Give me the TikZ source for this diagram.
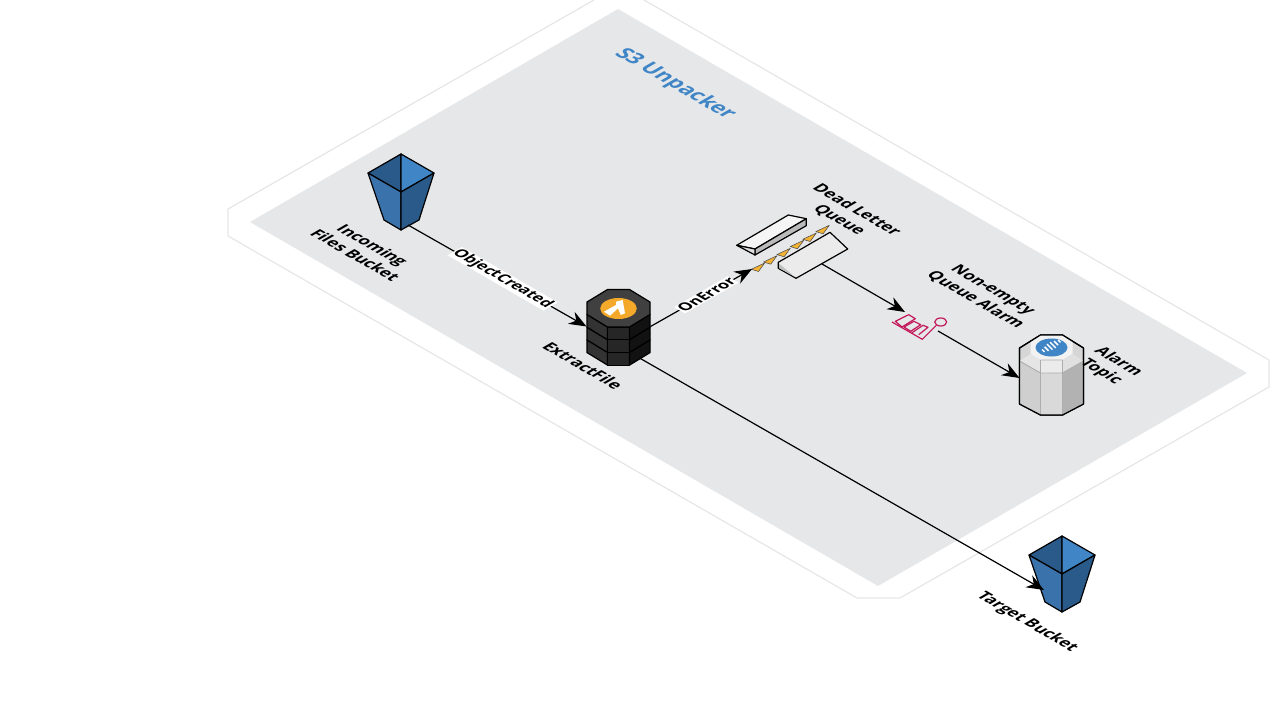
\documentclass[tikz,border=0pt]{standalone}
\usepackage{fontspec}
\setmainfont{Open Sans}
\usepackage{xcolor}
\usetikzlibrary{arrows.meta}
\definecolor{zone}{HTML}{E6E7E8}
\definecolor{zoneline}{HTML}{E6E6E6}
\definecolor{s3mid}{HTML}{3A72AB}
\definecolor{s3dark}{HTML}{2A5A8A}
\definecolor{s3light}{HTML}{4086C6}
\definecolor{amber}{HTML}{F5A92B}
\definecolor{chevron}{HTML}{F2B233}
\definecolor{alarmred}{HTML}{C2185B}
\begin{document}
\begin{tikzpicture}[
  x=0.75pt, y=-0.75pt, line join=round,
  lbl/.style={font=\bfseries\fontsize{12}{15}\selectfont, align=center, inner sep=0pt, transform shape},
  iso/.style={lbl, cm={0.866,-0.5,0.866,0.5,(0,0)}},
  isoup/.style={lbl, cm={0.866,0.5,-0.866,0.5,(0,0)}},
  title/.style={iso, text=s3light, font=\fontsize{15.8}{18}\selectfont\bfseries},
  halo/.style={fill=white, inner sep=0.5pt, font=\bfseries\fontsize{11.4}{14}\selectfont},
  ar/.style={-{Stealth[length=4.6mm,width=3.6mm]}, line width=0.9pt},
  ln/.style={line width=0.9pt},
  bucket/.pic={
    \filldraw[ln, fill=s3dark] (-33,-19) -- (0,-38) -- (0,0) -- cycle;
    \filldraw[ln, fill=s3light] (0,-38) -- (33,-19) -- (0,0) -- cycle;
    \filldraw[ln, fill=s3mid] (-33,-19) -- (0,0) -- (0,38) -- (-17,28) -- cycle;
    \filldraw[ln, fill=s3dark] (33,-19) -- (0,0) -- (0,38) -- (18,28) -- cycle;
    \coordinate (-out) at (7,33);
    \coordinate (-in) at (-18,16);
  },
  lambda/.pic={
    \foreach \dy in {25.4,12.7,0} {
      \filldraw[ln, fill=black!80] (-31.5,-6.5+\dy) -- (-11,6+\dy) -- (-11,18.7+\dy) -- (-31.5,6.2+\dy) -- cycle;
      \filldraw[ln, fill=black!85] (-11,6+\dy) -- (11,6+\dy) -- (11,18.7+\dy) -- (-11,18.7+\dy) -- cycle;
      \filldraw[ln, fill=black!93] (11,6+\dy) -- (31.5,-6.5+\dy) -- (31.5,6.2+\dy) -- (11,18.7+\dy) -- cycle;
    }
    \filldraw[ln, fill=black!75] (-31.5,-19) -- (-11,-31.5) -- (11,-31.5) -- (31.5,-19) -- (31.5,-6.5) -- (11,6) -- (-11,6) -- (-31.5,-6.5) -- cycle;
    \fill[amber] (0,-12.5) ellipse [x radius=18.3, y radius=10.5];
    \fill[white] (-2.5,-19.3) -- (4.2,-21) -- (6.5,-7.7) -- (2.2,-6) -- (-0.5,-12.7) -- (-8.5,-5.3) -- (-14.5,-9.3) -- (-2.5,-16) -- cycle;
    \coordinate (-in) at (-32,5.5);
    \coordinate (-err) at (32,5.5);
    \coordinate (-out) at (21,37);
  },
  topic/.pic={
    \filldraw[ln, fill=black!16] (-32,-27) -- (-11,-40) -- (11,-40) -- (32,-27) -- (32,29) -- (11,40) -- (-11,40) -- (-32,29) -- cycle;
    \fill[black!5] (-21,-33) -- (-11,-40) -- (11,-40) -- (21,-33) -- (21,-21) -- (11,-15) -- (-11,-15) -- (-21,-21) -- cycle;
    \fill[black!19] (-32,-14) -- (-11,-2) -- (-11,40) -- (-32,29) -- cycle;
    \fill[black!15] (-11,-2) -- (11,-2) -- (11,40) -- (-11,40) -- cycle;
    \fill[black!30] (11,-2) -- (32,-14) -- (32,29) -- (11,40) -- cycle;
    \fill[black!10] (-32,-14) -- (-21,-21) -- (-11,-15) -- (-11,-2) -- cycle;
    \fill[black!8] (-11,-15) -- (11,-15) -- (11,-2) -- (-11,-2) -- cycle;
    \fill[black!12] (32,-14) -- (21,-21) -- (11,-15) -- (11,-2) -- cycle;
    \draw[black!32, line width=0.7pt] (-11,-15) -- (-11,40) (11,-15) -- (11,40) (-32,-14) -- (-11,-2) -- (11,-2) -- (32,-14) (-11,-15) -- (11,-15);
    \draw[ln] (-32,-27) -- (-11,-40) -- (11,-40) -- (32,-27) -- (32,29) -- (11,40) -- (-11,40) -- (-32,29) -- cycle;
    \fill[s3light] (0,-27.5) ellipse [x radius=16, y radius=9];
    \foreach \sx/\sy/\sl in {-8.2/-24.3/1.2, -5/-26.2/2, -1.8/-28.1/2.8, 1.4/-30/2.8, 4.6/-31.9/2, 7.8/-33.8/1.2} {
      \draw[white, line width=1.1pt] (\sx-\sl,\sy-\sl) -- (\sx+\sl,\sy+\sl);
    }
    \coordinate (-in) at (-32,3);
  },
  tri/.pic={
    \filldraw[fill=chevron, draw=black!70, line width=0.4pt] (7,-4) -- (-6.5,2.3) -- (0.8,4.5) -- cycle;
  }]
  \useasboundingbox (0,0) rectangle (1280,720);
  \draw[zoneline, line width=0.9pt] (644,0) -- (1269,360) -- (1269,387) -- (900,598) -- (857,598) -- (228,236) -- (228,209) -- (594,0);
  \fill[zone] (618,9) -- (1247,373) -- (878,586) -- (250,222) -- cycle;
  \node[title] (zonetitle) at (675,84) {S3 Unpacker};

  \pic (incoming) at (401,192) {bucket};
  \pic (target) at (1062,574) {bucket};
  \pic (extract) at (618.5,321) {lambda};
  \pic (topic) at (1051.5,375) {topic};

  % dead letter queue
  \filldraw[ln, fill=black!4] (736.7,245.3) -- (788.3,215) -- (806.3,218.7) -- (755,249) -- cycle;
  \filldraw[ln, fill=black!27] (755,249) -- (806.3,218.7) -- (806.3,225.7) -- (755,255) -- cycle;
  \filldraw[ln, fill=black!12] (736.7,245.3) -- (755,249) -- (755,255) -- cycle;
  \filldraw[ln, fill=black!8] (778.3,262.3) -- (830,232.3) -- (847.7,249) -- (796,278.3) -- (778.3,268.3) -- cycle;
  \fill[black!25] (779,263.5) -- (795,277) -- (779,268) -- cycle;
  \foreach \tx/\ty in {757.7/267, 770/259.7, 783.3/252.3, 796.7/244.3, 809.3/237, 822.3/229.3} {
    \pic at (\tx,\ty) {tri};
  }
  \coordinate (dlq-in) at (752,269);
  \coordinate (dlq-out) at (822,264);

  % alarm
  \begin{scope}[alarmred, line width=0.9pt]
    \draw (892,322) -- (922.3,339.3) -- (936.3,325.3);
    \draw (895.3,321.3) -- (908.7,314.7) -- (915.3,318.7) -- (902,327) -- cycle;
    \draw (904,327) -- (914,321.3) -- (920.7,324.7) -- (910.7,331.3) -- cycle;
    \draw (912,332.7) -- (923,325.3) -- (928,327.3) -- (918.7,334.7);
    \draw (940.7,322) ellipse [x radius=6, y radius=4];
  \end{scope}
  \coordinate (alarm-in) at (905,312);
  \coordinate (alarm-out) at (938,331);

  \node[iso] (incominglabel) at (364,250) {Incoming\\Files Bucket};
  \node[iso] (extractlabel) at (583,365.5) {ExtractFile};
  \node[iso] (dlqlabel) at (848,215) {Dead Letter\\Queue};
  \node[iso] (alarmlabel) at (984,295) {Non-empty\\Queue Alarm};
  \node[iso] (topiclabel) at (1109.5,367) {Alarm\\Topic};
  \node[iso] (targetlabel) at (1027,622) {Target Bucket};

  \draw[ar] (incoming-out) -- node[iso,halo,pos=0.53]{ObjectCreated} (extract-in);
  \draw[ar] (extract-err) -- node[isoup,halo,pos=0.55]{OnError} (dlq-in);
  \draw[ar] (dlq-out) -- (alarm-in);
  \draw[ar] (alarm-out) -- (topic-in);
  \draw[ar] (extract-out) -- (target-in);
\end{tikzpicture}
\end{document}
